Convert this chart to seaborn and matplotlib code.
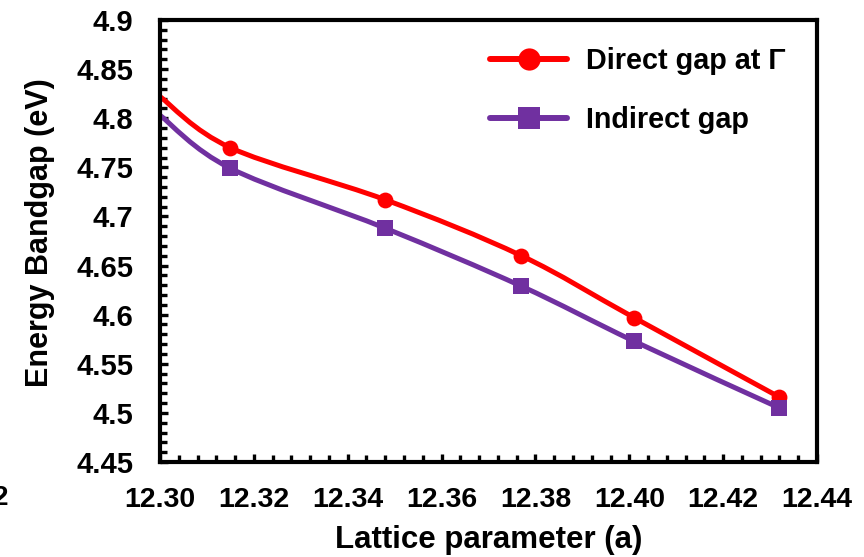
import numpy as np
import pandas as pd
import matplotlib
matplotlib.use("Agg")
import matplotlib.pyplot as plt
from matplotlib.path import Path
from matplotlib.patches import PathPatch
from matplotlib.lines import Line2D
from matplotlib.ticker import MultipleLocator, FuncFormatter, FormatStrFormatter
import seaborn as sns

# values
lattice = [12.300, 12.315, 12.348, 12.377, 12.401, 12.432]
direct_gap = [4.822, 4.770, 4.717, 4.660, 4.597, 4.516]
indirect_gap = [4.803, 4.749, 4.688, 4.629, 4.573, 4.505]

labels = ["Direct gap at Γ", "Indirect gap"]
colors = ["#FF0000", "#7030A0"]
markers = ["o", "s"]

sns.set_style("ticks")
plt.rcParams["font.family"] = ["Liberation Sans", "DejaVu Sans"]
plt.rcParams["font.weight"] = "bold"
plt.rcParams["text.color"] = "black"
plt.rcParams["axes.labelcolor"] = "black"
plt.rcParams["xtick.color"] = "black"
plt.rcParams["ytick.color"] = "black"


def smooth_path(xs, ys):
    # excel-style smoothed line: cubic bezier through the points
    p = np.column_stack([xs, ys])
    n = len(p)
    verts = [p[0]]
    codes = [Path.MOVETO]
    for i in range(n - 1):
        prev = p[i - 1] if i > 0 else p[i]
        nxt = p[i + 2] if i + 2 < n else p[i + 1]
        c1 = p[i] + (p[i + 1] - prev) / 6
        c2 = p[i + 1] - (nxt - p[i]) / 6
        verts += [c1, c2, p[i + 1]]
        codes += [Path.CURVE4] * 3
    return Path(verts, codes)


df = pd.DataFrame({"a": lattice, labels[0]: direct_gap, labels[1]: indirect_gap})

fig = plt.figure(figsize=(8.64, 5.57), dpi=100)
ax = fig.add_axes([0.1852, 0.1706, 0.7604, 0.7935])

handles = []
for lab, col, mk, sz, lsz in zip(labels, colors, markers, [130, 125], [16, 16]):
    ax.add_patch(PathPatch(smooth_path(df["a"], df[lab]), fill=False,
                           edgecolor=col, lw=3.6, capstyle="butt", zorder=2))
    # first point sits on the axis edge, its marker is clipped in the original
    sns.scatterplot(data=df.iloc[1:], x="a", y=lab, ax=ax, color=col, marker=mk,
                    s=sz, linewidth=0, zorder=3, legend=False)
    handles.append(Line2D([], [], color=col, lw=4.3, marker=mk,
                          markersize=lsz, markeredgewidth=0))

ax.set_xlim(12.30, 12.44)
ax.set_ylim(4.45, 4.9)
ax.xaxis.set_major_locator(MultipleLocator(0.02))
ax.xaxis.set_minor_locator(MultipleLocator(0.004))
ax.yaxis.set_major_locator(MultipleLocator(0.05))
ax.yaxis.set_minor_locator(MultipleLocator(0.01))
ax.xaxis.set_major_formatter(FormatStrFormatter("%.2f"))
ax.yaxis.set_major_formatter(FuncFormatter(lambda v, p: f"{v:.2f}".rstrip("0").rstrip(".")))

ax.tick_params(axis="both", which="both", direction="in", color="black",
               top=False, right=False)
ax.tick_params(axis="both", which="major", length=6, width=2.4)
ax.tick_params(axis="both", which="minor", length=5, width=2.4)
ax.tick_params(axis="x", which="major", labelsize=20.5, pad=18)
ax.tick_params(axis="y", which="major", labelsize=21, pad=19)
for lbl in ax.get_xticklabels() + ax.get_yticklabels():
    lbl.set_fontweight("bold")

for s in ax.spines.values():
    s.set_visible(True)
    s.set_linewidth(3)
    s.set_color("black")

ax.set_xlabel("Lattice parameter (a)", fontsize=22.5, fontweight="bold")
ax.set_ylabel("Energy Bandgap (eV)", fontsize=22, fontweight="bold")
ax.xaxis.set_label_coords(0.5, -0.143)
ax.yaxis.set_label_coords(-0.16, 0.52)

leg = ax.legend(handles, labels, loc="upper left", bbox_to_anchor=(0.502, 0.938),
                frameon=False, fontsize=20.7, handlelength=2.7, handletextpad=0.65,
                labelspacing=1.05, borderpad=0, borderaxespad=0)
for t in leg.get_texts():
    t.set_fontweight("bold")

# cropped label from the neighbouring panel
fig.text(9 / 864, 1 - 498 / 557, "2", fontsize=20, fontweight="bold",
         ha="right", va="center")

fig.savefig("out.png", dpi=100)
